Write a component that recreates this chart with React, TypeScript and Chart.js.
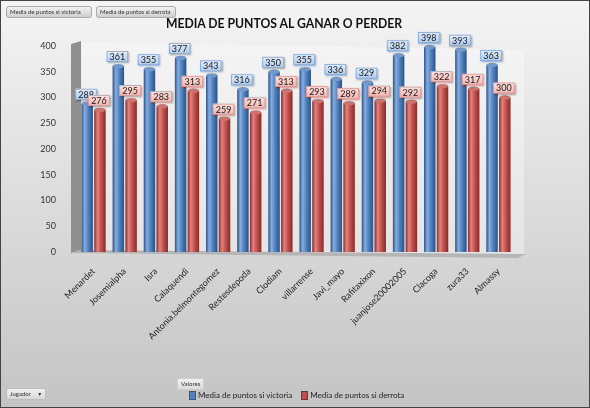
import React, { useEffect, useRef } from "react";
import { Chart, registerables } from "chart.js";

Chart.register(...registerables);

const jugadores = [
  "Menardet",
  "Josemialpha",
  "Isra",
  "Calaquendi",
  "Antonia.belmontegomez",
  "Restesdepoda",
  "Clodiam",
  "villarrense",
  "Javi_mayo",
  "Rafitaxixon",
  "juanjose20002005",
  "Clacoga",
  "zura33",
  "Almassy",
];
const victoria = [288, 361, 355, 377, 343, 316, 350, 355, 336, 329, 382, 398, 393, 363];
const derrota = [276, 295, 283, 313, 259, 271, 313, 293, 289, 294, 292, 322, 317, 300];
const yTicks = [0, 50, 100, 150, 200, 250, 300, 350, 400];
const serieNames = ["Media de puntos si victoria", "Media de puntos si derrota"];
const titulo = "MEDIA DE PUNTOS AL GANAR O PERDER";

const CAT_PCT = 0.82;
const BAR_PCT = 0.9;

const palette = [
  { base: "#4f81bd", dark: "#2a5288", light: "#86aee0", top: "#6f9ad0", lblA: "#e3eefb", lblB: "#aecbee", lblBorder: "#7fa7da" },
  { base: "#c0504d", dark: "#8a2a27", light: "#e2837f", top: "#d2706c", lblA: "#fde3e1", lblB: "#f4b3ae", lblBorder: "#e3908a" },
];

function cylGradient(ctx: any, ds: number) {
  const p = palette[ds];
  const chart = ctx.chart;
  const area = chart.chartArea;
  if (!area || ctx.type !== "data" || !chart.scales.x) return p.base;
  const catW = (area.right - area.left) / jugadores.length;
  const groupW = catW * CAT_PCT;
  const barW = (groupW / 2) * BAR_PCT;
  const cx = chart.scales.x.getPixelForValue(ctx.dataIndex) + (ds === 0 ? -groupW / 4 : groupW / 4);
  const g = chart.ctx.createLinearGradient(cx - barW / 2, 0, cx + barW / 2, 0);
  g.addColorStop(0, p.dark);
  g.addColorStop(0.28, p.light);
  g.addColorStop(0.6, p.base);
  g.addColorStop(1, p.dark);
  return g;
}

const decorPlugin = {
  id: "decor",
  beforeDatasetsDraw(chart: any) {
    const { ctx, chartArea: a } = chart;
    ctx.save();
    // back wall
    ctx.fillStyle = "rgba(255,255,255,0.35)";
    ctx.beginPath();
    ctx.moveTo(a.left + 4, a.top - 4);
    ctx.lineTo(a.right + 10, a.top + 4);
    ctx.lineTo(a.right + 10, a.bottom + 4);
    ctx.lineTo(a.left + 4, a.bottom - 2);
    ctx.closePath();
    ctx.fill();
    // left wall
    ctx.fillStyle = "#8f8f8f";
    ctx.beginPath();
    ctx.moveTo(a.left - 7, a.top - 2);
    ctx.lineTo(a.left + 3, a.top - 5);
    ctx.lineTo(a.left + 3, a.bottom - 2);
    ctx.lineTo(a.left - 7, a.bottom + 1);
    ctx.closePath();
    ctx.fill();
    // floor
    ctx.fillStyle = "#b5b5b5";
    ctx.beginPath();
    ctx.moveTo(a.left - 7, a.bottom + 1);
    ctx.lineTo(a.left + 3, a.bottom - 2);
    ctx.lineTo(a.right + 12, a.bottom + 2);
    ctx.lineTo(a.right + 4, a.bottom + 6);
    ctx.closePath();
    ctx.fill();
    ctx.restore();
  },
  afterDatasetsDraw(chart: any) {
    const { ctx } = chart;
    ctx.save();
    // cylinder tops
    [0, 1].forEach((ds) => {
      const meta = chart.getDatasetMeta(ds);
      meta.data.forEach((bar: any) => {
        const w = bar.width;
        ctx.fillStyle = palette[ds].top;
        ctx.beginPath();
        ctx.ellipse(bar.x, bar.y, w / 2, 2.2, 0, 0, Math.PI * 2);
        ctx.fill();
      });
    });
    // value labels
    ctx.font = "9px Lato, 'DejaVu Sans', sans-serif";
    ctx.textAlign = "center";
    ctx.textBaseline = "middle";
    [0, 1].forEach((ds) => {
      const p = palette[ds];
      const meta = chart.getDatasetMeta(ds);
      const values = chart.data.datasets[ds].data;
      meta.data.forEach((bar: any, i: number) => {
        const txt = String(values[i]);
        const tw = ctx.measureText(txt).width;
        const bw = tw + 6;
        const bh = 11;
        const bx = bar.x - bw / 2 - 1;
        const by = bar.y - 4 - bh;
        ctx.save();
        ctx.shadowColor = "rgba(0,0,0,0.35)";
        ctx.shadowBlur = 2;
        ctx.shadowOffsetX = 1;
        ctx.shadowOffsetY = 1;
        const g = ctx.createLinearGradient(0, by, 0, by + bh);
        g.addColorStop(0, p.lblA);
        g.addColorStop(1, p.lblB);
        ctx.fillStyle = g;
        ctx.fillRect(bx, by, bw, bh);
        ctx.restore();
        ctx.strokeStyle = p.lblBorder;
        ctx.lineWidth = 0.8;
        ctx.strokeRect(bx + 0.5, by + 0.5, bw - 1, bh - 1);
        ctx.fillStyle = "#1a1a1a";
        ctx.fillText(txt, bx + bw / 2, by + bh / 2 + 0.5);
      });
    });
    ctx.restore();
  },
};

const btn: React.CSSProperties = {
  position: "absolute",
  height: 12,
  boxSizing: "border-box",
  border: "1px solid #a9a9a9",
  borderRadius: 3,
  background: "linear-gradient(#f2f2f2, #cfcfcf)",
  font: "6px Lato, 'DejaVu Sans', sans-serif",
  color: "#333",
  lineHeight: "10px",
  paddingLeft: 3,
  whiteSpace: "nowrap",
};

export default function App() {
  const canvasRef = useRef<HTMLCanvasElement | null>(null);

  useEffect(() => {
    const canvas = canvasRef.current;
    if (!canvas) return;
    const chart = new Chart(canvas, {
      type: "bar",
      data: {
        labels: jugadores,
        datasets: [
          {
            label: serieNames[0],
            data: victoria,
            backgroundColor: (c: any) => cylGradient(c, 0),
            categoryPercentage: CAT_PCT,
            barPercentage: BAR_PCT,
          },
          {
            label: serieNames[1],
            data: derrota,
            backgroundColor: (c: any) => cylGradient(c, 1),
            categoryPercentage: CAT_PCT,
            barPercentage: BAR_PCT,
          },
        ],
      },
      options: {
        responsive: false,
        animation: false,
        events: [],
        layout: { padding: { top: 45, left: 10, right: 75, bottom: 45 } },
        plugins: {
          legend: { display: false },
          title: { display: false },
          tooltip: { enabled: false },
        },
        scales: {
          x: {
            grid: { display: false },
            border: { display: false },
            ticks: {
              autoSkip: false,
              minRotation: 45,
              maxRotation: 45,
              padding: 6,
              color: "#222",
              font: { family: "Lato, 'DejaVu Sans', sans-serif", size: 9 },
            },
            afterFit: (axis: any) => {
              axis.height = 110;
            },
          },
          y: {
            min: 0,
            max: 400,
            grid: { display: false },
            border: { display: false },
            afterBuildTicks: (axis: any) => {
              axis.ticks = yTicks.map((v) => ({ value: v }));
            },
            ticks: {
              padding: 14,
              color: "#333",
              font: { family: "Lato, 'DejaVu Sans', sans-serif", size: 9 },
            },
            afterFit: (axis: any) => {
              axis.width = 67;
            },
          },
        },
      },
      plugins: [decorPlugin],
    });
    return () => chart.destroy();
  }, []);

  return (
    <div
      style={{
        position: "fixed",
        left: 0,
        top: 0,
        width: 590,
        height: 408,
        boxSizing: "border-box",
        border: "1px solid #444",
        background: "linear-gradient(#f4f4f4, #c4c4c4)",
        overflow: "hidden",
      }}
    >
      <canvas
        ref={canvasRef}
        width={588}
        height={406}
        style={{ position: "absolute", left: 0, top: 0, width: 588, height: 406 }}
      />
      <div style={{ ...btn, left: 5, top: 5, width: 86 }}>{serieNames[0]}</div>
      <div style={{ ...btn, left: 95, top: 5, width: 80 }}>{serieNames[1]}</div>
      <div
        style={{
          position: "absolute",
          left: 0,
          width: 566,
          top: 13,
          textAlign: "center",
          font: "bold 14px Lato, 'DejaVu Sans', sans-serif",
          color: "#111",
          transform: "scaleX(0.87)",
          transformOrigin: "283px 0",
        }}
      >
        {titulo}
      </div>
      <div
        style={{
          ...btn,
          left: 5,
          top: 387,
          width: 40,
          border: "1px solid #bdbdbd",
          borderRadius: 2,
          background: "linear-gradient(#f0f0f0, #d8d8d8)",
        }}
      >
        Jugador <span style={{ marginLeft: 6 }}>▾</span>
      </div>
      <div
        style={{
          ...btn,
          left: 176,
          top: 377,
          width: 27,
          border: "1px solid #cfcfcf",
          borderRadius: 1,
          background: "linear-gradient(#f0f0f0, #dddddd)",
        }}
      >
        Valores
      </div>
      <div
        style={{
          position: "absolute",
          left: 188,
          top: 389,
          display: "flex",
          alignItems: "center",
          font: "8px Lato, 'DejaVu Sans', sans-serif",
          color: "#222",
          whiteSpace: "nowrap",
        }}
      >
        <span style={{ display: "inline-block", width: 5, height: 7, background: palette[0].base, border: "1px solid #2f5a92", marginRight: 2 }} />
        <span style={{ marginRight: 9 }}>{serieNames[0]}</span>
        <span style={{ display: "inline-block", width: 5, height: 7, background: palette[1].base, border: "1px solid #8a2a27", marginRight: 2 }} />
        <span>{serieNames[1]}</span>
      </div>
    </div>
  );
}
